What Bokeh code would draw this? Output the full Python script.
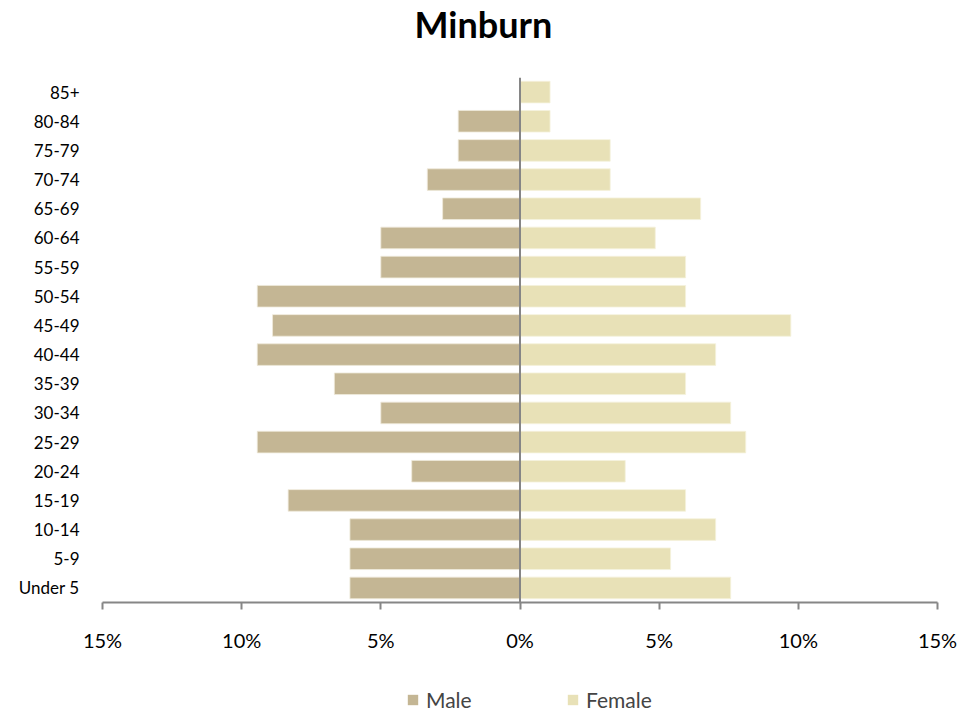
from bokeh.plotting import figure
from bokeh.layouts import column
from bokeh.models import (FactorRange, Range1d, Span, Legend, LegendItem, Label,
                          CustomJSTickFormatter, FixedTicker)
from bokeh.embed import file_html
from bokeh.resources import INLINE

age_groups = ["Under 5", "5-9", "10-14", "15-19", "20-24", "25-29", "30-34", "35-39",
              "40-44", "45-49", "50-54", "55-59", "60-64", "65-69", "70-74", "75-79",
              "80-84", "85+"]
male_pct = [6.11, 6.11, 6.11, 8.33, 3.89, 9.44, 5.00, 6.67,
            9.44, 8.89, 9.44, 5.00, 5.00, 2.78, 3.33, 2.22,
            2.22, 0.0]
female_pct = [7.57, 5.41, 7.03, 5.95, 3.78, 8.11, 7.57, 5.95,
              7.03, 9.73, 5.95, 5.95, 4.86, 6.49, 3.24, 3.24,
              1.08, 1.08]
x_ticks = [-15, -10, -5, 0, 5, 10, 15]
title_text = "Minburn"
series_names = ["Male", "Female"]

MALE_C = "#C4B694"
FEMALE_C = "#E8E1B7"
AXIS_C = "#868686"
FONT = "Lato"
W = 975

# ---------- title strip ----------
pt = figure(width=W, height=77, x_range=Range1d(0, W), y_range=Range1d(0, 77),
            x_axis_location=None, y_axis_location=None, output_backend="svg",
            toolbar_location=None, min_border=0, title=None)
pt.outline_line_color = None
pt.xgrid.visible = False
pt.ygrid.visible = False
pt.add_layout(Label(x=312, y=54, x_units="screen", text=title_text, text_font=FONT,
                    text_font_size="36px", text_font_style="bold", text_color="black",
                    text_baseline="alphabetic", text_align="left"))

# ---------- main chart ----------
p = figure(y_range=FactorRange(factors=age_groups, range_padding=0),
           x_range=Range1d(-15, 15), title=None,
           frame_width=835, frame_height=525, output_backend="svg", toolbar_location=None,
           min_border_left=102, min_border_right=38, min_border_top=0, min_border_bottom=52)

male_left = [-v for v in male_pct]
p.hbar(y=age_groups, left=male_left, right=0, height=0.74,
       fill_color=MALE_C, line_color="#EFEADB", line_width=0.8)
p.hbar(y=age_groups, left=0, right=female_pct, height=0.74,
       fill_color=FEMALE_C, line_color="#F5F1DC", line_width=0.8)

p.add_layout(Span(location=0, dimension="height", line_color=AXIS_C, line_width=2))

p.xgrid.visible = False
p.ygrid.visible = False
p.outline_line_color = None

yax = p.yaxis[0]
yax.axis_line_color = None
yax.major_tick_line_color = None
yax.minor_tick_line_color = None
yax.major_label_standoff = 17
yax.major_label_text_font = FONT
yax.major_label_text_font_size = "17px"
yax.major_label_text_color = "black"

xax = p.xaxis[0]
xax.ticker = FixedTicker(ticks=x_ticks)
xax.formatter = CustomJSTickFormatter(code="return Math.abs(tick).toFixed(0) + '%';")
xax.axis_line_color = AXIS_C
xax.axis_line_width = 2
xax.major_tick_line_color = AXIS_C
xax.major_tick_line_width = 2
xax.major_tick_out = 7
xax.major_tick_in = 0
xax.minor_tick_line_color = None
xax.major_label_standoff = 18
xax.major_label_text_font = FONT
xax.major_label_text_font_size = "20px"
xax.major_label_text_color = "black"

# ---------- legend strip ----------
LH = 58
pl = figure(width=W, height=LH, x_range=Range1d(0, W), y_range=Range1d(0, LH),
            x_axis_location=None, y_axis_location=None, output_backend="svg",
            toolbar_location=None, min_border=0, title=None)
pl.outline_line_color = None
pl.xgrid.visible = False
pl.ygrid.visible = False
# legend-only swatch renderers, kept outside the visible range
rm = pl.hbar(y=[-LH], left=[0], right=[0], height=1, fill_color=MALE_C, line_color=None)
rf = pl.hbar(y=[-LH], left=[0], right=[0], height=1, fill_color=FEMALE_C, line_color=None)
for name, rend, xloc in [(series_names[0], rm, 304), (series_names[1], rf, 464)]:
    lg = Legend(items=[LegendItem(label=name, renderers=[rend])], location=(xloc, 0),
                border_line_color=None, background_fill_alpha=0,
                glyph_width=13, glyph_height=13, label_text_font=FONT,
                label_text_font_size="21px", label_standoff=7, margin=0, padding=0)
    pl.add_layout(lg)

layout = column(pt, p, pl, spacing=0)
open("out.html", "w").write(file_html(layout, INLINE))
